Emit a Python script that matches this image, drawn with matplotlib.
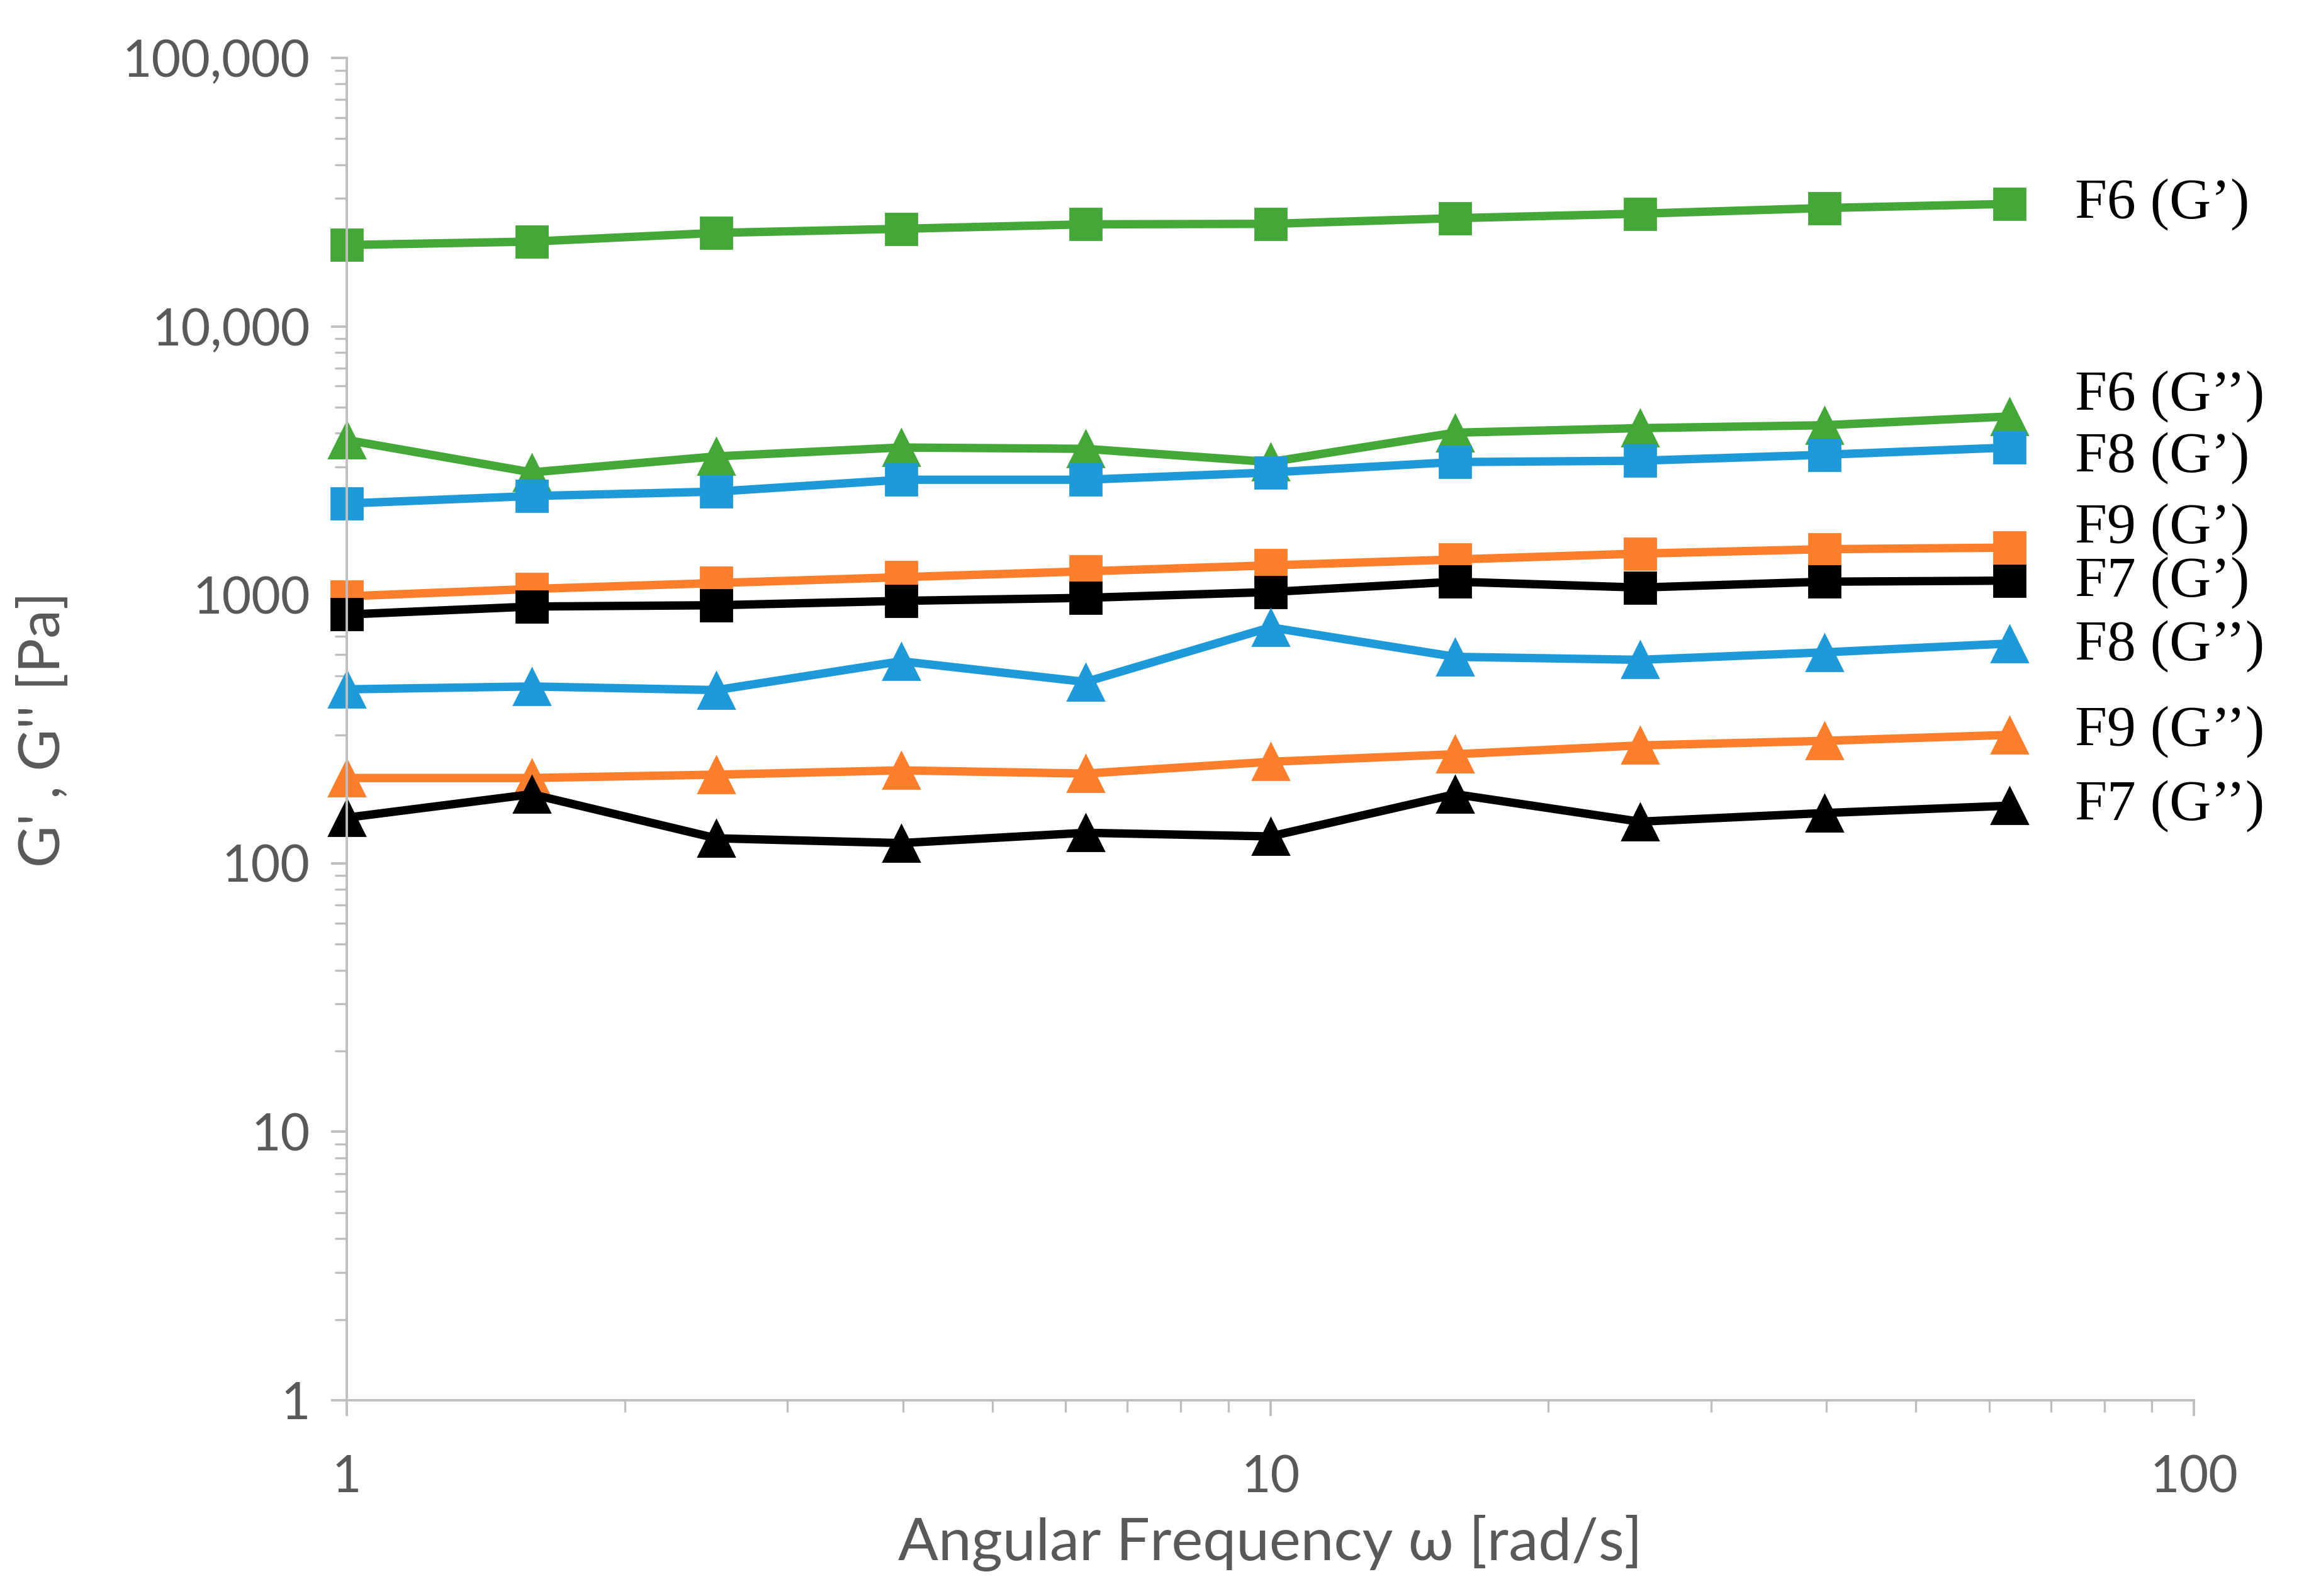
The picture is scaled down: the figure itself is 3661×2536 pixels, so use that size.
import matplotlib
matplotlib.use("Agg")
import matplotlib.pyplot as plt
from matplotlib.ticker import FixedLocator, FuncFormatter, LogLocator, NullFormatter

# Datos
omega = [1.0, 1.585, 2.512, 3.981, 6.31, 10.0, 15.85, 25.12, 39.81, 63.1]

f6_g1 = [20100, 20700, 22300, 23100, 24000, 24100, 25300, 26300, 27600, 28600]
f6_g2 = [3775, 2860, 3280, 3540, 3500, 3125, 4020, 4180, 4285, 4620]
f8_g1 = [2190, 2335, 2425, 2685, 2685, 2858, 3125, 3160, 3326, 3540]
f9_g1 = [988, 1052, 1107, 1164, 1224, 1288, 1355, 1425, 1480, 1500]
f7_g1 = [845, 905, 915, 950, 975, 1025, 1120, 1065, 1120, 1130]
f8_g2 = [445, 456, 442, 566, 474, 757, 588, 573, 611, 659]
f9_g2 = [208, 208, 214, 222, 216, 239, 255, 275, 286, 301]
f7_g2 = [148, 181, 124, 119, 130, 126, 181, 143, 154, 164]

etiquetas = ["F6 (G\u2019)", "F6 (G\u2019\u2019)", "F8 (G\u2019)", "F9 (G\u2019)",
             "F7 (G\u2019)", "F8 (G\u2019\u2019)", "F9 (G\u2019\u2019)", "F7 (G\u2019\u2019)"]
etiqueta_y = [0.891, 0.748, 0.702, 0.649, 0.609, 0.562, 0.498, 0.443]

verde = "#43a838"
azul = "#1f9ad8"
naranja = "#fd7f2c"
negro = "#000000"
gris = "#bfbfbf"
texto = "#595959"

plt.rcParams['font.family'] = ['Lato', 'DejaVu Sans']

fig = plt.figure(figsize=(3662 / 200, 2536 / 200), dpi=200)
ax = fig.add_axes([0.1505, 0.1226, 0.8015, 0.8411])

series = [
    (f6_g1, verde, 's', 18),
    (f6_g2, verde, '^', 21),
    (f8_g1, azul, 's', 18),
    (f9_g1, naranja, 's', 18),
    (f7_g1, negro, 's', 18),
    (f8_g2, azul, '^', 21),
    (f9_g2, naranja, '^', 21),
    (f7_g2, negro, '^', 21),
]
for valores, color, marca, tam in series:
    ax.plot(omega, valores, color=color, lw=4.8, marker=marca, ms=tam,
            mec=color, mfc=color, clip_on=False)

ax.set_xscale('log')
ax.set_yscale('log')
ax.set_xlim(1, 100)
ax.set_ylim(1, 100000)

# Ejes estilo Excel
for lado in ['top', 'right']:
    ax.spines[lado].set_visible(False)
for lado in ['left', 'bottom']:
    ax.spines[lado].set_color(gris)
    ax.spines[lado].set_linewidth(1.4)

ax.yaxis.set_major_locator(FixedLocator([1, 10, 100, 1000, 10000, 100000]))
ax.yaxis.set_minor_locator(LogLocator(base=10, subs=range(2, 10), numticks=20))
ax.yaxis.set_minor_formatter(NullFormatter())


def formato_y(v, pos):
    if v >= 10000:
        return f"{int(round(v)):,}"
    return f"{int(round(v))}"


ax.yaxis.set_major_formatter(FuncFormatter(formato_y))
ax.xaxis.set_major_locator(FixedLocator([1, 10, 100]))
ax.xaxis.set_major_formatter(FuncFormatter(lambda v, p: f"{int(round(v))}"))
ax.xaxis.set_minor_locator(LogLocator(base=10, subs=range(2, 10), numticks=20))
ax.xaxis.set_minor_formatter(NullFormatter())

ax.tick_params(axis='both', which='major', direction='out', length=9, width=1.4,
               color=gris, labelsize=29, labelcolor=texto)
ax.tick_params(axis='both', which='minor', direction='out', length=7, width=1.2,
               color=gris)
ax.tick_params(axis='y', which='major', pad=12)
ax.tick_params(axis='x', which='major', pad=22)

ax.set_xlabel("Angular Frequency \u03c9 [rad/s]", fontsize=34, color=texto, labelpad=8)
ax.set_ylabel("G' , G'' [Pa]", fontsize=33, color=texto, labelpad=30)

for txt, yy in zip(etiquetas, etiqueta_y):
    ax.text(0.9355, yy, txt, transform=ax.transAxes, ha='left', va='center',
            fontsize=33, color='black', family=['Liberation Serif', 'DejaVu Serif'])

fig.savefig("out.png", dpi=200, facecolor='white')
